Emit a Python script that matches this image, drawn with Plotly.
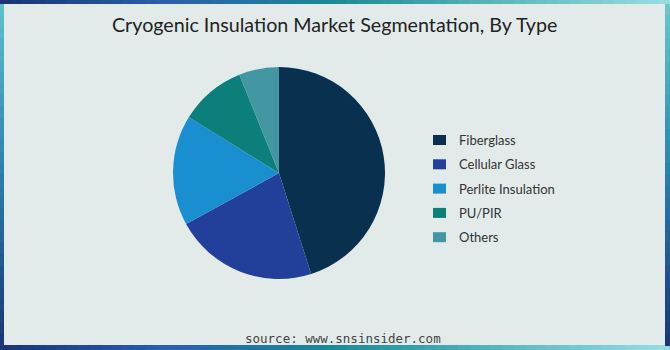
import plotly.graph_objects as go

title_text = "Cryogenic Insulation Market Segmentation, By Type"
source_text = "source: www.snsinsider.com"
labels = ["Fiberglass", "Cellular Glass", "Perlite Insulation", "PU/PIR", "Others"]
values = [45.1, 21.9, 16.8, 10.1, 6.1]
colors = ["#0a3050", "#22409a", "#1a8fd0", "#0d7f7b", "#4297a3"]

W, H = 670, 350
def px(x):
    return x / W
def py(y):
    return 1 - y / H

fig = go.Figure()
fig.add_trace(go.Pie(
    labels=labels, values=values, sort=False, direction="clockwise", rotation=0,
    marker=dict(colors=colors, line=dict(width=0)),
    textinfo="none", hoverinfo="label+percent", showlegend=False,
    domain=dict(x=[px(173), px(385)], y=[py(279), py(67)]),
))

shapes = []
annotations = []

# gradient frame
def lerp(c1, c2, t):
    a = [int(c1[i:i+2], 16) for i in (1, 3, 5)]
    b = [int(c2[i:i+2], 16) for i in (1, 3, 5)]
    return "#%02x%02x%02x" % tuple(round(a[k] + (b[k] - a[k]) * t) for k in range(3))

def grad(stops, t):
    n = len(stops) - 1
    i = min(int(t * n), n - 1)
    return lerp(stops[i], stops[i + 1], t * n - i)

hstops = ["#1a3476", "#2a5fae", "#1c8a96", "#5bb8bc", "#9adde4"]
vleft = ["#5cc3cc", "#2a7fb0", "#1a3476"]
vright = ["#6cc8c8", "#2a7fb0", "#1a3476"]
N = 60
for i in range(N):
    t = (i + 0.5) / N
    x0, x1 = W * i / N, W * (i + 1) / N
    c = grad(hstops, t)
    shapes.append(dict(type="rect", xref="paper", yref="paper", x0=px(x0), x1=px(x1) + 0.002,
                       y0=py(4), y1=py(0), fillcolor=c, line=dict(width=0), layer="above"))
    shapes.append(dict(type="rect", xref="paper", yref="paper", x0=px(x0), x1=px(x1) + 0.002,
                       y0=py(350), y1=py(345), fillcolor=c, line=dict(width=0), layer="above"))
M = 30
for i in range(M):
    t = (i + 0.5) / M
    y0, y1 = 4 + 341 * i / M, 4 + 341 * (i + 1) / M
    shapes.append(dict(type="rect", xref="paper", yref="paper", x0=px(0), x1=px(4),
                       y0=py(y1) - 0.003, y1=py(y0), fillcolor=grad(vleft, t), line=dict(width=0), layer="above"))
    shapes.append(dict(type="rect", xref="paper", yref="paper", x0=px(665), x1=px(670),
                       y0=py(y1) - 0.003, y1=py(y0), fillcolor=grad(vright, t), line=dict(width=0), layer="above"))

# legend
leg_y0, leg_dy = 140, 24.3
for i, (lab, col) in enumerate(zip(labels, colors)):
    yc = leg_y0 + i * leg_dy
    shapes.append(dict(type="rect", xref="paper", yref="paper", x0=px(433), x1=px(446),
                       y0=py(yc + 5), y1=py(yc - 5), fillcolor=col, line=dict(width=0)))
    annotations.append(dict(text=lab, xref="paper", yref="paper", x=px(457), y=py(yc),
                            xanchor="left", yanchor="middle", showarrow=False,
                            font=dict(family="Lato", size=13, color="#333333")))

annotations.append(dict(text=title_text, xref="paper", yref="paper", x=px(334), y=py(24),
                        xanchor="center", yanchor="middle", showarrow=False,
                        font=dict(family="Lato", size=19.7, color="#222222")))
annotations.append(dict(text=source_text, xref="paper", yref="paper", x=px(343), y=py(338),
                        xanchor="center", yanchor="middle", showarrow=False,
                        font=dict(family="DejaVu Sans Mono", size=12.5, color="#444444")))

fig.update_layout(
    width=W, height=H, margin=dict(l=0, r=0, t=0, b=0),
    paper_bgcolor="#e3ebea", plot_bgcolor="#e3ebea",
    shapes=shapes, annotations=annotations, showlegend=False,
)
fig.write_html("out.html")
